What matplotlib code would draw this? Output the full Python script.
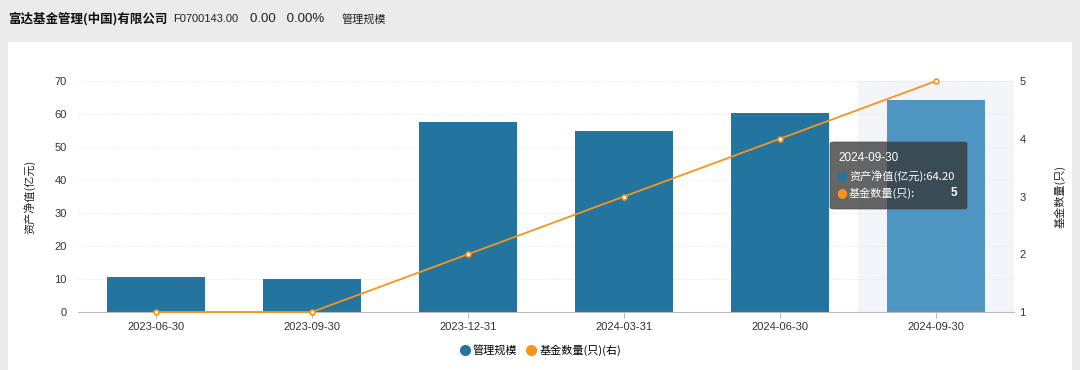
import numpy as np
import matplotlib
matplotlib.use("Agg")
import matplotlib.pyplot as plt
from matplotlib.patches import Rectangle, FancyBboxPatch
from matplotlib.lines import Line2D

plt.rcParams['font.family'] = ['Noto Sans CJK SC', 'DejaVu Sans']

dates = ["2023-06-30", "2023-09-30", "2023-12-31", "2024-03-31", "2024-06-30", "2024-09-30"]
scale = [10.7, 10.1, 57.7, 54.9, 60.4, 64.2]
fund_count = [1, 1, 2, 3, 4, 5]

W, H = 1080, 370
fig = plt.figure(figsize=(W / 100, H / 100), dpi=100, facecolor="#ebebeb")

# white card below header
fig.patches.append(Rectangle((8 / W, 0), (W - 16) / W, (H - 42) / H,
                             transform=fig.transFigure, facecolor="white",
                             edgecolor="none", zorder=-5))

fig.text(8 / W, 1 - 19 / H, "富达基金管理(中国)有限公司", fontsize=9,
         fontweight="bold", va="center", color="#111111")
fig.text(173 / W, 1 - 19 / H, "F0700143.00", fontsize=8, va="center",
         color="#222222", family="Liberation Sans")
fig.text(250 / W, 1 - 19 / H, "0.00   0.00%", fontsize=9.5, va="center",
         color="#222222", family="Liberation Sans")
fig.text(342 / W, 1 - 19 / H, "管理规模", fontsize=8, va="center", color="#222222")

l, r, t, b = 78, 1014, 81, 312
ax = fig.add_axes([l / W, 1 - b / H, (r - l) / W, (b - t) / H])
ax.set_facecolor("none")
x = np.arange(len(dates))

# hover band
ax.axvspan(4.5, 5.5, color="#f3f5fa", zorder=0)

colors = ["#23759f"] * 5 + ["#4f95c1"]
ax.bar(x, scale, width=0.63, color=colors, zorder=2)

ax.set_xlim(-0.5, 5.5)
ax.set_ylim(0, 70)
ax.set_yticks(range(0, 71, 10))
ax.grid(axis="y", color="#e6e6e6", linestyle=(0, (2, 2)), linewidth=0.6, zorder=1)
ax.set_axisbelow(True)
for s in ["top", "right", "left"]:
    ax.spines[s].set_visible(False)
ax.spines["bottom"].set_color("#bbbbbb")
ax.set_xticks(x)
ax.set_xticklabels(dates, family="Liberation Sans")
ax.tick_params(axis="x", length=4, color="#bbbbbb", labelsize=8, labelcolor="#333333", pad=3)
ax.tick_params(axis="y", length=0, labelsize=8, labelcolor="#333333", pad=8)
ax.set_ylabel("资产净值(亿元)", fontsize=8, color="#222222", labelpad=14)

ax2 = ax.twinx()
ax2.set_ylim(1, 5)
ax2.set_yticks([1, 2, 3, 4, 5])
for s in ax2.spines.values():
    s.set_visible(False)
ax2.tick_params(axis="y", length=0, labelsize=8, labelcolor="#333333", pad=4)
ax2.set_ylabel("基金数量(只)", fontsize=8, color="#222222", labelpad=20)
ax2.plot(x, fund_count, color="#f7941d", linewidth=1.3, marker="o", markersize=3.5,
         markerfacecolor="white", markeredgecolor="#f7941d", markeredgewidth=1.2,
         zorder=3, clip_on=False)
for lab in ax.get_yticklabels() + ax2.get_yticklabels():
    lab.set_family("Liberation Sans")

# tooltip
tx0, ty0, tw, th = 830, 142, 137, 67
fig.patches.append(FancyBboxPatch((tx0 / W, 1 - (ty0 + th) / H), tw / W, th / H,
                                  boxstyle="round,pad=0,rounding_size=0.004",
                                  transform=fig.transFigure, facecolor="#333333",
                                  edgecolor="#444444", linewidth=0.6, alpha=0.75, zorder=5))
fig.text(838 / W, 1 - 158 / H, dates[5], fontsize=8.5, color="white", va="center",
         family="Liberation Sans", zorder=6)
fig.text(836 / W, 1 - 176 / H, "●", fontsize=9, color="#23759f", va="center",
         family="DejaVu Sans", zorder=6)
fig.text(849 / W, 1 - 176 / H, "资产净值(亿元):%.2f" % scale[5], fontsize=8,
         color="white", va="center", zorder=6)
fig.text(836 / W, 1 - 193 / H, "●", fontsize=9, color="#f7941d", va="center",
         family="DejaVu Sans", zorder=6)
fig.text(849 / W, 1 - 193 / H, "基金数量(只):", fontsize=8, color="white",
         va="center", zorder=6)
fig.text(957 / W, 1 - 193 / H, str(fund_count[5]), fontsize=8.5, color="white",
         va="center", ha="right", fontweight="bold", family="Liberation Sans", zorder=6)

handles = [
    Line2D([], [], linestyle="none", marker="o", markersize=7, color="#23759f"),
    Line2D([], [], linestyle="none", marker="o", markersize=7, color="#f7941d"),
]
fig.legend(handles, ["管理规模", "基金数量(只)(右)"], loc="center",
           bbox_to_anchor=(0.5, 1 - 350 / H), ncol=2, frameon=False, fontsize=8,
           handletextpad=0.2, columnspacing=0.8, handlelength=1.0)

fig.savefig("out.png", dpi=100, facecolor=fig.get_facecolor())
